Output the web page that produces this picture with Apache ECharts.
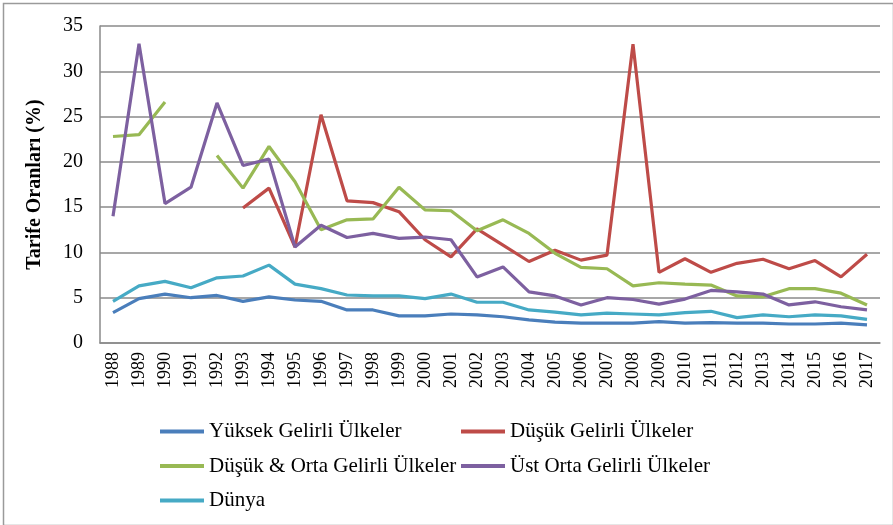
<!DOCTYPE html>
<html>
<head>
<meta charset="utf-8">
<script src="https://cdn.jsdelivr.net/npm/echarts@6/dist/echarts.min.js"></script>
<style>
  html, body { margin: 0; padding: 0; background: #fff; }
  #chart { width: 893px; height: 525px; }
</style>
</head>
<body>
<div id="chart"></div>
<script>
// years on the x axis
const years = [
  '1988', '1989', '1990', '1991', '1992', '1993', '1994', '1995', '1996', '1997',
  '1998', '1999', '2000', '2001', '2002', '2003', '2004', '2005', '2006', '2007',
  '2008', '2009', '2010', '2011', '2012', '2013', '2014', '2015', '2016', '2017'
];

// tariff rates (%), null = no data
const yuksekGelirli = [
  3.35, 4.9, 5.4, 5.0, 5.25, 4.6, 5.1, 4.75, 4.6, 3.65,
  3.65, 3.0, 3.0, 3.2, 3.1, 2.9, 2.55, 2.3, 2.2, 2.2,
  2.2, 2.35, 2.2, 2.25, 2.2, 2.2, 2.1, 2.1, 2.2, 2.0
];
const dusukGelirli = [
  null, null, null, null, null, 14.9, 17.1, 10.6, 25.2, 15.7,
  15.5, 14.5, 11.4, 9.5, 12.6, 10.8, 9.0, 10.25, 9.15, 9.7,
  33.0, 7.8, 9.3, 7.8, 8.8, 9.25, 8.2, 9.1, 7.3, 9.8
];
const dusukOrtaGelirli = [
  22.8, 23.0, 26.6, null, 20.7, 17.1, 21.7, 17.8, 12.5, 13.6,
  13.7, 17.2, 14.7, 14.6, 12.4, 13.6, 12.1, 9.9, 8.35, 8.2,
  6.3, 6.65, 6.5, 6.4, 5.2, 5.1, 6.0, 6.0, 5.5, 4.2
];
const ustOrtaGelirli = [
  14.0, 33.05, 15.4, 17.2, 26.5, 19.6, 20.3, 10.6, 13.0, 11.65,
  12.1, 11.55, 11.7, 11.4, 7.3, 8.4, 5.65, 5.2, 4.2, 5.0,
  4.8, 4.3, 4.85, 5.8, 5.65, 5.4, 4.2, 4.55, 4.0, 3.65
];
const dunya = [
  4.6, 6.3, 6.8, 6.1, 7.2, 7.4, 8.6, 6.5, 6.0, 5.3,
  5.2, 5.2, 4.9, 5.4, 4.5, 4.5, 3.65, 3.4, 3.1, 3.3,
  3.2, 3.1, 3.35, 3.5, 2.8, 3.1, 2.9, 3.1, 3.0, 2.6
];

const yTicks = { min: 0, max: 35, interval: 5 };

const serif = '"Liberation Serif", "DejaVu Serif", serif';

const chart = echarts.init(document.getElementById('chart'));

function lineSeries(name, data, color) {
  return {
    name: name,
    type: 'line',
    data: data,
    symbol: 'none',
    connectNulls: false,
    lineStyle: { color: color, width: 3.2 },
    itemStyle: { color: color },
    animation: false
  };
}

const legendText = { fontFamily: serif, fontSize: 21, lineHeight: 21, color: '#000' };

chart.setOption({
  backgroundColor: '#fff',
  animation: false,
  grid: { left: 100, right: 13, top: 26, bottom: 182 },
  xAxis: {
    type: 'category',
    data: years,
    boundaryGap: true,
    axisLine: { lineStyle: { color: '#8a8a8a', width: 1.5 } },
    axisTick: { show: false },
    axisLabel: {
      rotate: 90,
      interval: 0,
      margin: 9,
      fontFamily: serif,
      fontSize: 18,
      color: '#000'
    }
  },
  yAxis: {
    type: 'value',
    min: yTicks.min,
    max: yTicks.max,
    interval: yTicks.interval,
    name: 'Tarife Oranları (%)',
    nameLocation: 'middle',
    nameGap: 55,
    nameTextStyle: { fontFamily: serif, fontSize: 20, fontWeight: 'bold', color: '#000' },
    axisLine: { show: true, lineStyle: { color: '#8a8a8a', width: 1.5 } },
    axisTick: { show: false },
    axisLabel: { fontFamily: serif, fontSize: 20, color: '#000', margin: 17 },
    splitLine: { lineStyle: { color: '#8a8a8a', width: 1.5 } }
  },
  legend: [
    {
      orient: 'vertical',
      left: 160,
      top: 421,
      padding: 0,
      itemWidth: 44,
      itemHeight: 4,
      itemGap: 13.5,
      icon: 'rect',
      textStyle: legendText,
      data: ['Yüksek Gelirli Ülkeler', 'Düşük & Orta Gelirli Ülkeler', 'Dünya']
    },
    {
      orient: 'vertical',
      left: 461,
      top: 421,
      padding: 0,
      itemWidth: 44,
      itemHeight: 4,
      itemGap: 13.5,
      icon: 'rect',
      textStyle: legendText,
      data: ['Düşük Gelirli Ülkeler', 'Üst Orta Gelirli Ülkeler']
    }
  ],
  graphic: [{
    type: 'rect',
    left: 1,
    top: 1,
    shape: { width: 890, height: 522 },
    style: { fill: 'none', stroke: '#9a9a9a', lineWidth: 1.5 },
    silent: true
  }],
  series: [
    lineSeries('Yüksek Gelirli Ülkeler', yuksekGelirli, '#4a7ebb'),
    lineSeries('Düşük Gelirli Ülkeler', dusukGelirli, '#be4b48'),
    lineSeries('Düşük & Orta Gelirli Ülkeler', dusukOrtaGelirli, '#98b954'),
    lineSeries('Üst Orta Gelirli Ülkeler', ustOrtaGelirli, '#7d60a0'),
    lineSeries('Dünya', dunya, '#46aac5')
  ]
});
</script>
</body>
</html>
